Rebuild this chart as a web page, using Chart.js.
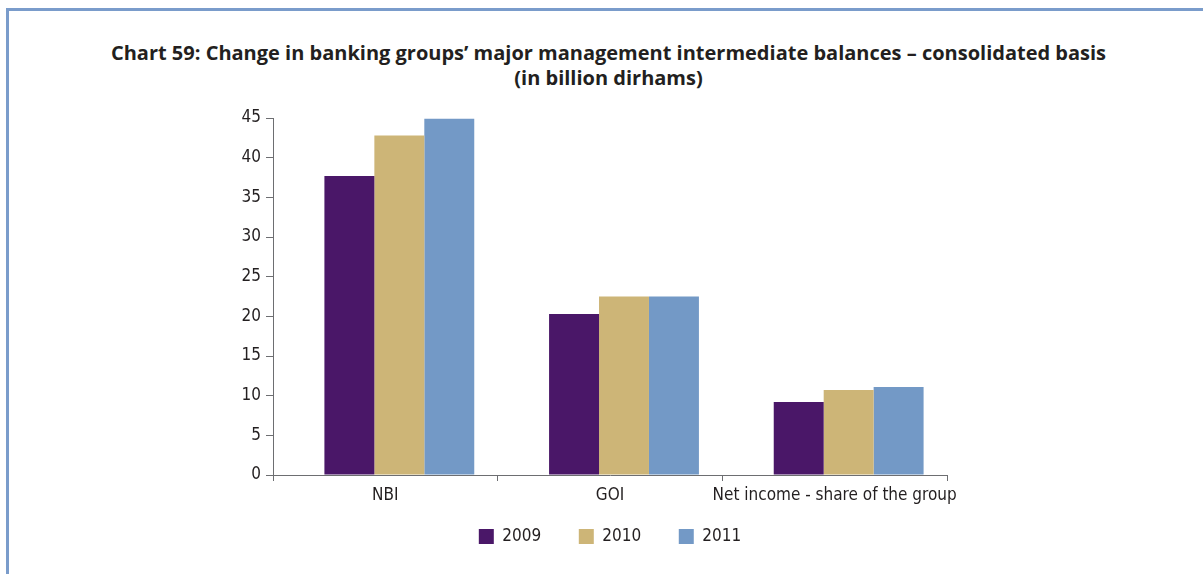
<!DOCTYPE html>
<html>
<head>
<meta charset="utf-8">
<script src="https://cdn.jsdelivr.net/npm/chart.js@4.4.1/dist/chart.umd.min.js"></script>
<style>
	html, body { margin: 0; padding: 0; background: #fff; }
	#wrap { position: relative; width: 1203px; height: 574px; overflow: hidden; }
	#frame {
		position: absolute; left: 6px; top: 8px; width: 1300px; height: 700px;
		border-left: 3px solid #7a9ccb; border-top: 3px solid #7a9ccb;
	}
	#title {
		position: absolute; left: 0; top: 40px; width: 1217px; text-align: center;
		font-family: 'Open Sans', sans-serif; font-weight: bold; font-size: 20px;
		line-height: 25px; color: #231f20; white-space: nowrap;
	}
	#chart { position: absolute; left: 0; top: 0; }
</style>
</head>
<body>
<div id="wrap">
	<div id="frame"></div>
	<div id="title">Chart 59: Change in banking groups’ major management intermediate balances – consolidated basis<br>(in billion dirhams)</div>
	<canvas id="chart" width="1203" height="574"></canvas>
</div>
<script>
	// 데이터
	const categories = ['NBI', 'GOI', 'Net income - share of the group'];
	const years = ['2009', '2010', '2011'];
	const values2009 = [37.7, 20.3, 9.2];
	const values2010 = [42.8, 22.5, 10.7];
	const values2011 = [44.9, 22.5, 11.1];
	const yTicks = [0, 5, 10, 15, 20, 25, 30, 35, 40, 45];

	const colors = ['#4a1768', '#cdb577', '#7399c6'];
	const axisColor = '#6d6e71';
	const textColor = '#231f20';
	const narrowFont = "'Liberation Sans Narrow', 'DejaVu Sans Condensed', sans-serif";

	// 막대 묶음이 원본처럼 살짝 오른쪽으로 치우쳐 있음
	const barShift = 14;
	const shiftBars = {
		id: 'shiftBars',
		beforeDatasetsDraw: function(chart) {
			chart.ctx.save();
			chart.ctx.translate(barShift, 0);
		},
		afterDatasetsDraw: function(chart) {
			chart.ctx.restore();
		}
	};

	let series = [values2009, values2010, values2011];
	let datasets = series.map(function(data, i) {
		return {
			label: years[i],
			data: data,
			backgroundColor: colors[i],
			borderWidth: 0,
			barPercentage: 1,
			categoryPercentage: 0.667
		};
	});

	let ctx = document.getElementById('chart');
	new Chart(ctx, {
		type: 'bar',
		data: { labels: categories, datasets: datasets },
		plugins: [shiftBars],
		options: {
			responsive: false,
			animation: false,
			layout: { padding: { left: 200, right: 256, top: 118, bottom: 19 } },
			plugins: {
				title: { display: false },
				legend: {
					position: 'bottom',
					fullSize: false,
					labels: {
						boxWidth: 15,
						boxHeight: 15,
						padding: 23,
						color: textColor,
						font: { family: narrowFont, size: 17 },
						// 범례 항목 간격을 넓히기 위해 마지막 항목 제외하고 뒤에 공백 추가
						generateLabels: function(chart) {
							let items = Chart.defaults.plugins.legend.labels.generateLabels(chart);
							items.forEach(function(item, i) {
								if (i < items.length - 1) item.text = item.text + '   ';
							});
							return items;
						}
					}
				},
				tooltip: { enabled: false }
			},
			scales: {
				x: {
					grid: { offset: true, drawOnChartArea: false, tickLength: 6, color: axisColor },
					border: { color: axisColor, width: 1 },
					ticks: { color: textColor, font: { family: narrowFont, size: 17 }, padding: 4, maxRotation: 0, autoSkip: false },
					afterFit: function(scale) { scale.height = 30; }
				},
				y: {
					min: 0,
					max: 45,
					afterBuildTicks: function(scale) {
						scale.ticks = yTicks.map(function(v) { return { value: v }; });
					},
					grid: { drawOnChartArea: false, tickLength: 7, color: axisColor },
					border: { color: axisColor, width: 1 },
					ticks: { color: textColor, font: { family: narrowFont, size: 17 }, padding: 5 },
					afterFit: function(scale) { scale.width = 73; }
				}
			}
		}
	});
</script>
</body>
</html>
